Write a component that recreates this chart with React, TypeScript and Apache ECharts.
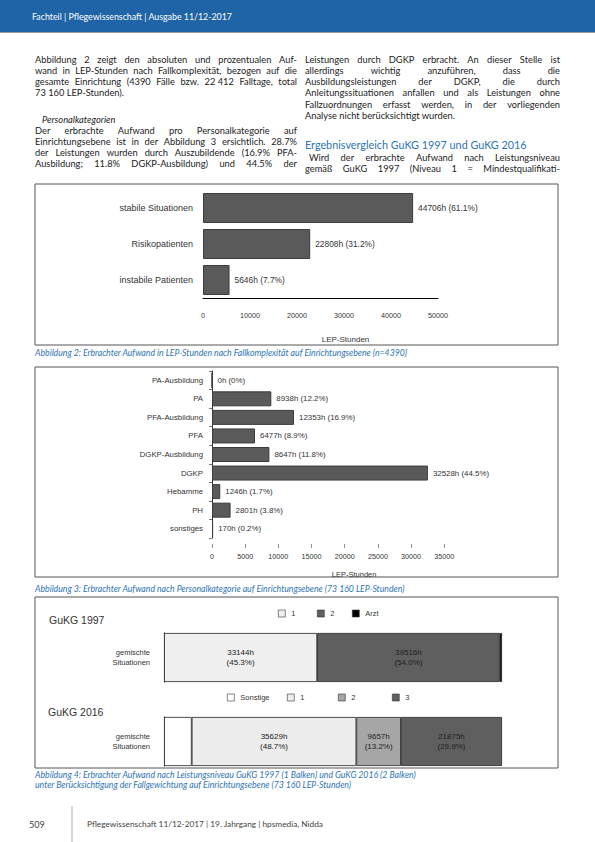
import React, { useEffect, useRef } from "react";
import * as echarts from "echarts";

// ---------- DATA ----------
const fallCategories = ["stabile Situationen", "Risikopatienten", "instabile Patienten"];
const fallValues = [44706, 22808, 5646];
const fallPercents = [61.1, 31.2, 7.7];

const personalCategories = [
  "PA-Ausbildung", "PA", "PFA-Ausbildung", "PFA", "DGKP-Ausbildung",
  "DGKP", "Hebamme", "PH", "sonstiges",
];
const personalValues = [0, 8938, 12353, 6477, 8647, 32528, 1246, 2801, 170];
const personalPercents = [0, 12.2, 16.9, 8.9, 11.8, 44.5, 1.7, 3.8, 0.2];

const situationCategories = ["gemischte Situationen"];
const levels1997 = ["1", "2", "Arzt"];
const values1997 = [33144, 39516, 500];
const percents1997 = [45.3, 54.0, 0.7];
const showLabel1997 = [true, true, false];
const colors1997 = ["#efefef", "#5f5f5f", "#000000"];

const levels2016 = ["Sonstige", "1", "2", "3"];
const values2016 = [5999, 35629, 9657, 21875];
const percents2016 = [8.2, 48.7, 13.2, 29.9];
const showLabel2016 = [false, true, true, true];
const colors2016 = ["#ffffff", "#ececec", "#a6a6a6", "#5f5f5f"];

const TOTAL_HOURS = 73160;

// ---------- TEXT ----------
type Line = { t: string; y: number; j: boolean; italic?: boolean; x?: number };
const leftLines: Line[] = [
  { t: "Abbildung 2 zeigt den absoluten und prozentualen Auf-", y: 59, j: true },
  { t: "wand in LEP-Stunden nach Fallkomplexität, bezogen auf die", y: 70, j: true },
  { t: "gesamte Einrichtung (4390 Fälle bzw. 22\u00A0412 Falltage, total", y: 81, j: true },
  { t: "73\u00A0160 LEP-Stunden).", y: 92, j: false },
  { t: "Personalkategorien", y: 119, j: false, italic: true, x: 42 },
  { t: "Der erbrachte Aufwand pro Personalkategorie auf", y: 130.5, j: true },
  { t: "Einrichtungsebene ist in der Abbildung 3 ersichtlich. 28.7%", y: 141.5, j: true },
  { t: "der Leistungen wurden durch Auszubildende (16.9% PFA-", y: 152.5, j: true },
  { t: "Ausbildung; 11.8% DGKP-Ausbildung) und 44.5% der", y: 163.5, j: true },
];
const rightLines: Line[] = [
  { t: "Leistungen durch DGKP erbracht.  An dieser Stelle ist", y: 59, j: true },
  { t: "allerdings wichtig anzuführen, dass die", y: 70.3, j: true },
  { t: "Ausbildungsleistungen der DGKP, die durch", y: 81.6, j: true },
  { t: "Anleitungssituationen anfallen und als Leistungen ohne", y: 92.9, j: true },
  { t: "Fallzuordnungen erfasst werden, in der vorliegenden", y: 104.2, j: true },
  { t: "Analyse nicht berücksichtigt wurden.", y: 115.5, j: false },
  { t: "Wird der erbrachte Aufwand nach Leistungsniveau", y: 157, j: true, x: 309 },
  { t: "gemäß GuKG 1997 (Niveau 1 = Mindestqualifikati-", y: 168, j: true },
];

const BODY_FONT = "Lato";
const BODY_SIZE = 9.3;
const BLUE = "#2e74b5";

let measureCtx: CanvasRenderingContext2D | null = null;
function measure(t: string, font: string) {
  if (!measureCtx) measureCtx = document.createElement("canvas").getContext("2d");
  measureCtx!.font = font;
  return measureCtx!.measureText(t).width;
}

function textEl(t: string, x: number, y: number, extra: any = {}) {
  return {
    type: "text",
    x,
    y,
    silent: true,
    style: {
      text: t,
      fontFamily: BODY_FONT,
      fontSize: BODY_SIZE,
      fill: "#222",
      align: "left",
      verticalAlign: "middle",
      ...extra,
    },
  };
}

function buildLines(lines: Line[], x0: number, x1: number) {
  const out: any[] = [];
  lines.forEach((ln) => {
    const sx = ln.x ?? x0;
    const fontStyle = ln.italic ? "italic" : "normal";
    if (!ln.j) {
      out.push(textEl(ln.t, sx, ln.y, { fontStyle }));
      return;
    }
    const words = ln.t.split(/ +/);
    let size = BODY_SIZE;
    let widths: number[] = [];
    let gap = 0;
    for (let k = 0; k < 12; k++) {
      const font = `${fontStyle} ${size}px ${BODY_FONT}`;
      widths = words.map((w) => measure(w, font));
      const sum = widths.reduce((a, b) => a + b, 0);
      gap = words.length > 1 ? (x1 - sx - sum) / (words.length - 1) : 0;
      if (gap >= size * 0.22) break;
      size -= 0.15;
    }
    let cx = sx;
    words.forEach((w, i) => {
      out.push(textEl(w, cx, ln.y, { fontStyle, fontSize: size }));
      cx += widths[i] + gap;
    });
  });
  return out;
}

const CHART_FONT = "Liberation Sans";
const fmtPct = (p: number) => (p === 0 ? "0%" : p.toFixed(1) + "%");
const plain = (v: number) => String(v);

export default function App() {
  const ref = useRef<HTMLDivElement>(null);
  useEffect(() => {
    if (!ref.current) return;
    const chart = echarts.init(ref.current, null, { renderer: "svg", width: 595, height: 842 });

    const capStyle = { fill: BLUE, fontSize: 8.7, fontStyle: "italic" };
    const graphics: any[] = [
      { type: "rect", shape: { x: 0, y: 0, width: 595, height: 32 }, style: { fill: "#1f64a6" }, silent: true },
      { type: "line", shape: { x1: 0, y1: 32.5, x2: 595, y2: 32.5 }, style: { stroke: "#9a9a9a", lineWidth: 1 }, silent: true },
      textEl("Fachteil | Pflegewissenschaft | Ausgabe 11/12-2017", 32, 16, { fill: "#ffffff", fontSize: 8.8 }),
      ...buildLines(leftLines, 35, 297),
      ...buildLines(rightLines, 305, 560),
      textEl("Ergebnisvergleich GuKG 1997 und GuKG 2016", 305, 144, { fill: BLUE, fontSize: 10.8 }),
      // chart frames
      { type: "rect", shape: { x: 35, y: 184, width: 523, height: 161 }, style: { fill: "none", stroke: "#555", lineWidth: 1 }, silent: true },
      { type: "rect", shape: { x: 35, y: 367, width: 523, height: 210 }, style: { fill: "none", stroke: "#555", lineWidth: 1 }, silent: true },
      { type: "rect", shape: { x: 35, y: 597, width: 523, height: 171 }, style: { fill: "none", stroke: "#555", lineWidth: 1 }, silent: true },
      // captions
      textEl("Abbildung 2: Erbrachter Aufwand in LEP-Stunden nach Fallkomplexität auf Einrichtungsebene (n=4390)", 35, 352, capStyle),
      textEl("Abbildung 3: Erbrachter Aufwand nach Personalkategorie auf Einrichtungsebene (73\u00A0160 LEP-Stunden)", 35, 588, capStyle),
      textEl("Abbildung 4: Erbrachter Aufwand nach Leistungsniveau GuKG 1997 (1 Balken) und GuKG 2016 (2 Balken)", 35, 774.5, capStyle),
      textEl("unter Berücksichtigung der Fallgewichtung auf Einrichtungsebene (73\u00A0160 LEP-Stunden)", 35, 784.5, capStyle),
      // chart 3 titles
      textEl("GuKG 1997", 49, 620, { fontFamily: CHART_FONT, fontSize: 10.5, fill: "#333" }),
      textEl("GuKG 2016", 48, 712, { fontFamily: CHART_FONT, fontSize: 10.5, fill: "#333" }),
      // footer
      textEl("509", 29, 824, { fontSize: 9, fill: "#444" }),
      { type: "line", shape: { x1: 72, y1: 806, x2: 72, y2: 842 }, style: { stroke: "#c8c8c8", lineWidth: 1.5 }, silent: true },
      textEl("Pflegewissenschaft 11/12-2017 | 19. Jahrgang | hpsmedia, Nidda", 87, 824, { fontSize: 8.3, fill: "#444" }),
    ];

    const legendPos1997 = [278, 317, 352];
    const legendPos2016 = [227, 287, 338, 392];

    const legends: any[] = [];
    levels1997.forEach((name, i) => {
      legends.push({
        left: legendPos1997[i], top: 609.5, orient: "horizontal", selectedMode: false,
        itemWidth: 7, itemHeight: 7, itemGap: 4, padding: 0,
        textStyle: { fontFamily: CHART_FONT, fontSize: 7.5, color: "#333", padding: [0, 0, 0, 1] },
        data: [{ name, icon: "rect", itemStyle: { color: colors1997[i], borderColor: "#333", borderWidth: 0.6 } }],
      });
    });
    levels2016.forEach((name, i) => {
      legends.push({
        left: legendPos2016[i], top: 693.5, orient: "horizontal", selectedMode: false,
        itemWidth: 7, itemHeight: 7, itemGap: 4, padding: 0,
        textStyle: { fontFamily: CHART_FONT, fontSize: 7.5, color: "#333", padding: [0, 0, 0, 1] },
        data: [{ name, icon: "rect", itemStyle: { color: colors2016[i], borderColor: "#333", borderWidth: 0.6 } }],
      });
    });

    const axisText = { fontFamily: CHART_FONT, color: "#333" };

    const series: any[] = [
      {
        type: "bar", xAxisIndex: 0, yAxisIndex: 0, data: fallValues, barWidth: 30,
        itemStyle: { color: "#5a5a5a", borderColor: "#3c3c3c", borderWidth: 1 },
        label: {
          show: true, position: "right", distance: 5, ...axisText, fontSize: 8.4,
          formatter: (p: any) => `${p.value}h (${fmtPct(fallPercents[p.dataIndex])})`,
        },
      },
      {
        type: "bar", xAxisIndex: 1, yAxisIndex: 1, data: personalValues, barWidth: 15,
        itemStyle: { color: "#5a5a5a", borderColor: "#3c3c3c", borderWidth: 1 },
        label: {
          show: true, position: "right", distance: 5, ...axisText, fontSize: 7.9,
          formatter: (p: any) => `${p.value}h (${fmtPct(personalPercents[p.dataIndex])})`,
        },
      },
    ];
    levels1997.forEach((name, i) => {
      series.push({
        type: "bar", name, stack: "s1997", xAxisIndex: 2, yAxisIndex: 2, data: [values1997[i]],
        barWidth: 49,
        itemStyle: { color: colors1997[i], borderColor: "#222", borderWidth: 0.8 },
        label: {
          show: showLabel1997[i], position: "inside", ...axisText, color: "#222", fontSize: 8, lineHeight: 10,
          formatter: (p: any) => `${p.value}h\n(${fmtPct(percents1997[i])})`,
        },
      });
    });
    levels2016.forEach((name, i) => {
      series.push({
        type: "bar", name, stack: "s2016", xAxisIndex: 3, yAxisIndex: 3, data: [values2016[i]],
        barWidth: 49,
        itemStyle: { color: colors2016[i], borderColor: "#222", borderWidth: 0.8 },
        label: {
          show: showLabel2016[i], position: "inside", ...axisText, color: "#222", fontSize: 8, lineHeight: 10,
          formatter: (p: any) => `${p.value}h\n(${fmtPct(percents2016[i])})`,
        },
      });
    });

    const option: any = {
      animation: false,
      backgroundColor: "#ffffff",
      textStyle: { fontFamily: CHART_FONT },
      grid: [
        { left: 203, top: 190, width: 235, height: 108, outerBoundsMode: "none" },
        { left: 212, top: 371, width: 232.3, height: 167, outerBoundsMode: "none" },
        { left: 164, top: 633, width: 338, height: 49, outerBoundsMode: "none" },
        { left: 164, top: 717, width: 338, height: 49, outerBoundsMode: "none" },
      ],
      xAxis: [
        {
          type: "value", gridIndex: 0, min: 0, max: 50000, interval: 10000,
          axisLine: { show: true, lineStyle: { color: "#000", width: 1 } },
          axisTick: { show: false }, splitLine: { show: false },
          axisLabel: { ...axisText, fontSize: 7.2, margin: 14, formatter: plain },
          name: "LEP-Stunden", nameLocation: "middle", nameGap: 37,
          nameTextStyle: { ...axisText, fontSize: 8, padding: [0, 0, 0, 50] },
        },
        {
          type: "value", gridIndex: 1, min: 0, max: 35000, interval: 5000, offset: 6,
          axisLine: { show: false },
          axisTick: { show: true, length: 4, lineStyle: { color: "#777", width: 0.8 } },
          splitLine: { show: false },
          axisLabel: { ...axisText, fontSize: 7.2, margin: 9, formatter: plain },
          name: "LEP-Stunden", nameLocation: "middle", nameGap: 26,
          nameTextStyle: { ...axisText, fontSize: 7.5, padding: [0, 0, 0, 52] },
        },
        { type: "value", gridIndex: 2, min: 0, max: TOTAL_HOURS, show: false },
        { type: "value", gridIndex: 3, min: 0, max: TOTAL_HOURS, show: false },
      ],
      yAxis: [
        {
          type: "category", gridIndex: 0, data: fallCategories, inverse: true,
          axisLine: { show: false }, axisTick: { show: false },
          axisLabel: { ...axisText, fontSize: 9, margin: 10 },
        },
        {
          type: "category", gridIndex: 1, data: personalCategories, inverse: true,
          axisLine: { show: true, lineStyle: { color: "#000", width: 0.8 } },
          axisTick: { show: true, length: 3, lineStyle: { color: "#777" } },
          axisLabel: { ...axisText, fontSize: 7.8, margin: 9 },
        },
        {
          type: "category", gridIndex: 2, data: situationCategories,
          axisLine: { show: true, lineStyle: { color: "#000", width: 1 } }, axisTick: { show: false },
          axisLabel: { ...axisText, fontSize: 7.5, lineHeight: 10, margin: 14, align: "right",
            formatter: (v: string) => v.replace(" ", "\n") },
        },
        {
          type: "category", gridIndex: 3, data: situationCategories,
          axisLine: { show: true, lineStyle: { color: "#000", width: 1 } }, axisTick: { show: false },
          axisLabel: { ...axisText, fontSize: 7.5, lineHeight: 10, margin: 14, align: "right",
            formatter: (v: string) => v.replace(" ", "\n") },
        },
      ],
      legend: legends,
      series,
      graphic: { elements: graphics },
    };

    chart.setOption(option);
    return () => chart.dispose();
  }, []);

  return (
    <div
      ref={ref}
      style={{ position: "absolute", left: 0, top: 0, width: 595, height: 842, background: "#fff" }}
    />
  );
}
